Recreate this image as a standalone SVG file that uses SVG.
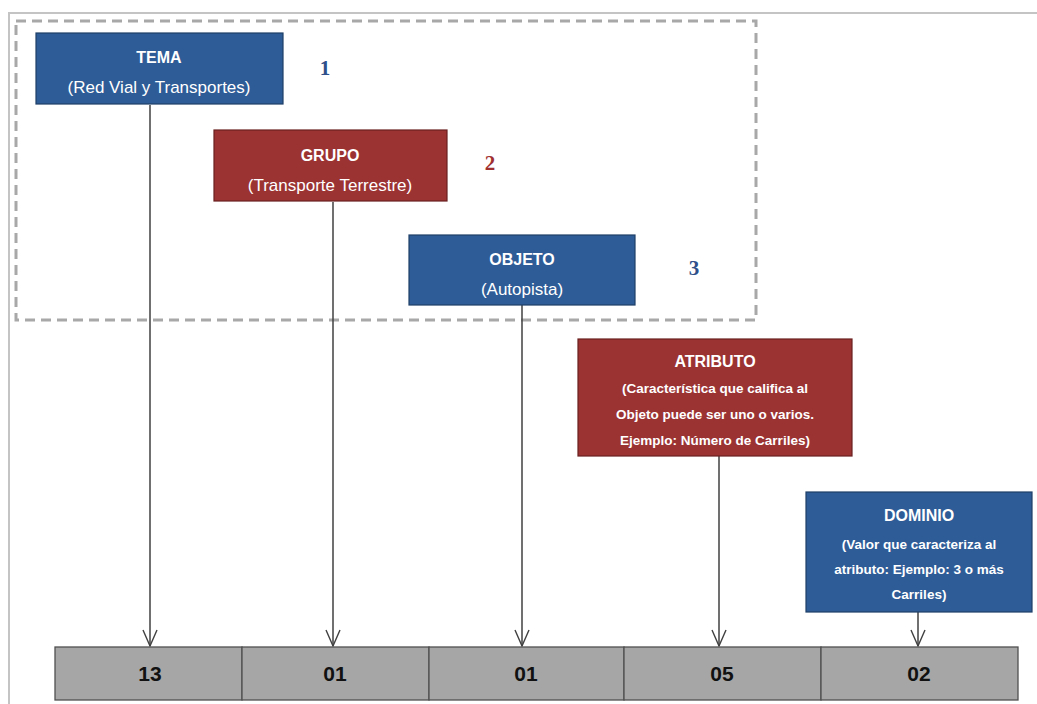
<svg xmlns="http://www.w3.org/2000/svg" width="1037" height="704" viewBox="0 0 1037 704">
<style>
.blue{fill:#2E5C97;stroke:#1F3F68;stroke-width:1.2}
.red{fill:#9B3333;stroke:#6A2020;stroke-width:1.2}
.t{font-family:"Liberation Sans",Arial,sans-serif;fill:#fff;text-anchor:middle}
.h{font-weight:bold;font-size:16px}
.s{font-size:17px}
.m{font-size:13.5px;font-weight:bold}
.num{font-family:"Liberation Serif","Times New Roman",serif;font-weight:bold;font-size:21px;text-anchor:middle}
.cell{fill:#A6A6A6;stroke:#505050;stroke-width:1.3}
.ct{font-family:"Liberation Sans",Arial,sans-serif;font-weight:bold;font-size:21px;fill:#111;text-anchor:middle}
.c{stroke:#404040;stroke-width:1.5;fill:none}
</style>
<defs>
<marker id="ah" viewBox="0 0 18 16" refX="17" refY="8" markerWidth="18" markerHeight="16" markerUnits="userSpaceOnUse" orient="auto">
<path d="M1,1 L17,8 L1,15" fill="none" stroke="#404040" stroke-width="1.4"/>
</marker>
</defs>
<rect width="1037" height="704" fill="#fff"/>
<g id="frame">
<path d="M9,704 V13 H1037" fill="none" stroke="#C4C4C4" stroke-width="2"/>
<rect x="16" y="21" width="740" height="299" fill="none" stroke="#A8A8A8" stroke-width="3" stroke-dasharray="10,6"/>
</g>
<g id="connectors">
<line class="c" x1="150" y1="105" x2="150" y2="646" marker-end="url(#ah)"/>
<line class="c" x1="333" y1="202" x2="333" y2="646" marker-end="url(#ah)"/>
<line class="c" x1="522" y1="305" x2="522" y2="646" marker-end="url(#ah)"/>
<line class="c" x1="719" y1="456" x2="719" y2="646" marker-end="url(#ah)"/>
<line class="c" x1="918" y1="612" x2="918" y2="646" marker-end="url(#ah)"/>
</g>
<g id="tema">
<rect class="blue" x="36" y="33" width="247" height="71"/>
<text class="t h" x="159" y="63">TEMA</text>
<text class="t s" x="159" y="93">(Red Vial y Transportes)</text>
</g>
<text id="n1" class="num" x="325" y="75" fill="#2E4F8A">1</text>
<g id="grupo">
<rect class="red" x="214" y="130" width="233" height="71"/>
<text class="t h" x="330" y="161">GRUPO</text>
<text class="t s" x="330" y="191">(Transporte Terrestre)</text>
</g>
<text id="n2" class="num" x="490" y="170" fill="#A03030">2</text>
<g id="objeto">
<rect class="blue" x="409" y="235" width="226" height="70"/>
<text class="t h" x="522" y="265">OBJETO</text>
<text class="t s" x="522" y="295">(Autopista)</text>
</g>
<text id="n3" class="num" x="694" y="275" fill="#2E4F8A">3</text>
<g id="atributo">
<rect class="red" x="578" y="339" width="274" height="117"/>
<text class="t h" x="715" y="367">ATRIBUTO</text>
<text class="t m" x="715" y="393">(Característica que califica al</text>
<text class="t m" x="715" y="419">Objeto puede ser uno o varios.</text>
<text class="t m" x="715" y="445">Ejemplo: Número de Carriles)</text>
</g>
<g id="dominio">
<rect class="blue" x="806" y="492" width="226" height="120"/>
<text class="t h" x="919" y="521">DOMINIO</text>
<text class="t m" x="919" y="549">(Valor que caracteriza al</text>
<text class="t m" x="919" y="574">atributo: Ejemplo: 3 o más</text>
<text class="t m" x="919" y="599">Carriles)</text>
</g>
<g id="codigo">
<rect class="cell" x="55" y="647" width="187" height="53"/>
<rect class="cell" x="242" y="647" width="187" height="53"/>
<rect class="cell" x="429" y="647" width="195" height="53"/>
<rect class="cell" x="624" y="647" width="197" height="53"/>
<rect class="cell" x="821" y="647" width="197" height="53"/>
<text class="ct" x="150" y="681">13</text>
<text class="ct" x="335" y="681">01</text>
<text class="ct" x="526" y="681">01</text>
<text class="ct" x="722" y="681">05</text>
<text class="ct" x="919" y="681">02</text>
</g>
</svg>
